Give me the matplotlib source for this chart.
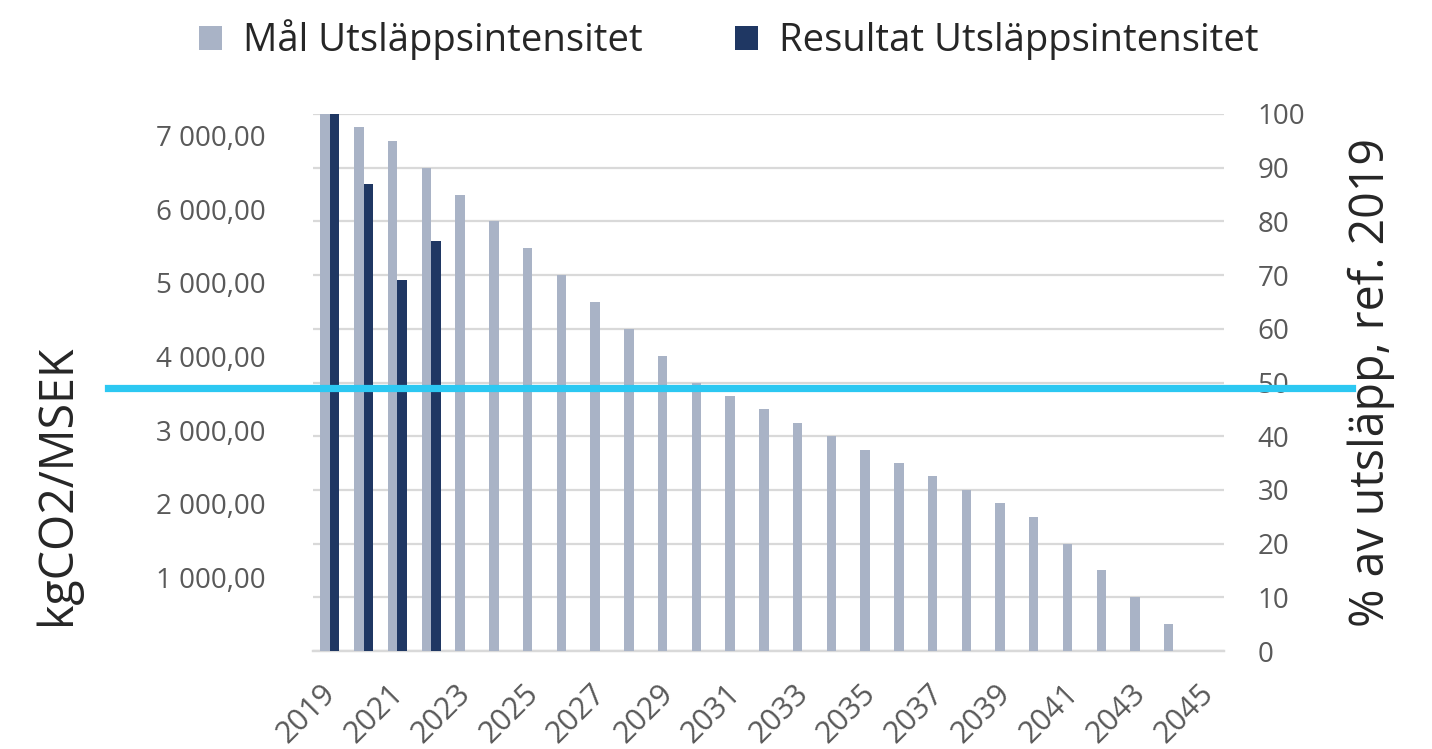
import matplotlib
matplotlib.use("Agg")
import matplotlib.pyplot as plt
import matplotlib.transforms as mtransforms
import numpy as np
from matplotlib.patches import Patch
from matplotlib.ticker import FuncFormatter, FixedLocator

plt.rcParams['font.family'] = ['Open Sans', 'DejaVu Sans']

years = list(range(2019, 2046))
# Target (Mål) as % of 2019 emissions
mal_pct = [100, 97.5, 95, 90, 85, 80, 75, 70, 65, 60, 55, 50, 47.5, 45, 42.5, 40,
           37.5, 35, 32.5, 30, 27.5, 25, 20, 15, 10, 5, 0]
# Result (Resultat) as % of 2019 emissions, known years only
res_pct = [100, 87.0, 69.1, 76.4] + [np.nan] * 23
left_max = 7290          # kgCO2/MSEK corresponding to 100 %
left_ticks = [1000, 2000, 3000, 4000, 5000, 6000, 7000]
right_ticks = [0, 10, 20, 30, 40, 50, 60, 70, 80, 90, 100]
cyan_level = 48.9        # % level of highlighted horizontal line
tick_years = years[::2]

c_light = '#A9B3C6'
c_dark = '#1F3763'
c_cyan = '#2CC8F2'
c_grid = '#D9D9D9'
c_tick = '#595959'
c_label = '#262626'

fig = plt.figure(figsize=(14.32, 7.49), dpi=100)
ax1 = fig.add_axes([0.2186, 0.1308, 0.6362, 0.7170])
ax2 = ax1.twinx()

x = np.arange(len(years))
w = 0.28
ax2.bar(x - w / 2, mal_pct, width=w, color=c_light, zorder=3)
ax2.bar(x + w / 2, res_pct, width=w, color=c_dark, zorder=3)

ax2.set_ylim(0, 100)
ax2.yaxis.set_major_locator(FixedLocator(right_ticks))
ax2.grid(axis='y', color=c_grid, linewidth=1.6)
ax2.set_axisbelow(True)

ax1.set_ylim(0, left_max)
ax1.yaxis.set_major_locator(FixedLocator(left_ticks))
ax1.yaxis.set_major_formatter(FuncFormatter(lambda v, p: f"{int(v):,}".replace(',', ' ') + ',00'))

ax1.set_xlim(-0.5, len(years) - 0.5)
ax1.set_xticks([years.index(y) for y in tick_years])
ax1.set_xticklabels([str(y) for y in tick_years])

for a in (ax1, ax2):
    for s in ('top', 'left', 'right'):
        a.spines[s].set_visible(False)
    a.spines['bottom'].set_color(c_grid)
    a.spines['bottom'].set_linewidth(1.6)
    a.tick_params(axis='both', length=0)

ax1.tick_params(axis='y', labelsize=20, labelcolor=c_tick, pad=34)
ax1.tick_params(axis='x', pad=8, labelsize=22, labelcolor=c_tick, labelrotation=45)
ax2.tick_params(axis='y', labelsize=20, labelcolor=c_tick, pad=24)
shift = mtransforms.ScaledTranslation(-9 / 100, -16 / 100, fig.dpi_scale_trans)
for lab in ax1.get_xticklabels():
    lab.set_ha('right')
    lab.set_rotation_mode('anchor')
    lab.set_transform(lab.get_transform() + shift)

ax1.set_ylabel('kgCO2/MSEK', fontsize=33.5, color=c_label, va='center')
ax1.yaxis.set_label_coords(-0.281, 0.309)
ax2.set_ylabel('% av utsläpp, ref. 2019', fontsize=33.5, color=c_label, va='center')
ax2.yaxis.set_label_coords(1.162, 0.50)

ax2.axhline(cyan_level, xmin=-0.225, xmax=1.1405, color=c_cyan, linewidth=5.2,
            clip_on=False, zorder=10)

handles = [Patch(facecolor=c_light, label='Mål Utsläppsintensitet'),
           Patch(facecolor=c_dark, label='Resultat Utsläppsintensitet')]
fig.legend(handles=handles, loc='upper center', bbox_to_anchor=(0.509, 1.02), ncol=2,
           frameon=False, fontsize=27.5, handlelength=0.6, handleheight=0.6,
           handletextpad=0.55, columnspacing=2.4, labelcolor=c_label)

fig.savefig('out.png', dpi=100)
